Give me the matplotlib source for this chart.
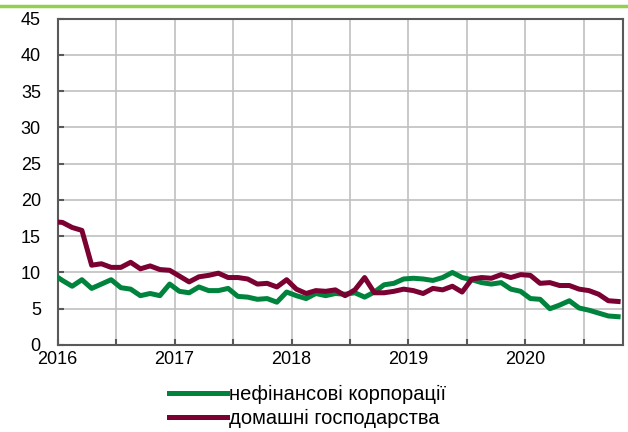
import numpy as np
import matplotlib
matplotlib.use("Agg")
import matplotlib.pyplot as plt
from matplotlib.lines import Line2D

plt.rcParams['font.family'] = ['Liberation Sans', 'DejaVu Sans']

# monthly values, Dec 2015 .. Oct 2020 (first point sits left of the axis and is clipped)
nonfin_corps = [9.8,
                8.9, 8.1, 9.0, 7.8, 8.4, 9.0, 7.9, 7.7, 6.8, 7.1, 6.8, 8.4,
                7.4, 7.2, 8.0, 7.5, 7.5, 7.8, 6.7, 6.6, 6.3, 6.4, 5.9, 7.3,
                6.8, 6.4, 7.1, 6.8, 7.1, 7.0, 7.2, 6.6, 7.3, 8.3, 8.5, 9.1,
                9.2, 9.1, 8.9, 9.3, 10.0, 9.3, 9.0, 8.6, 8.4, 8.6, 7.7, 7.4,
                6.4, 6.3, 5.0, 5.5, 6.1, 5.1, 4.8, 4.4, 4.0, 3.9]
households = [17.0,
              16.9, 16.2, 15.8, 11.0, 11.2, 10.7, 10.7, 11.4, 10.5, 10.9, 10.4, 10.3,
              9.5, 8.7, 9.4, 9.6, 9.9, 9.3, 9.3, 9.1, 8.4, 8.5, 8.0, 9.0,
              7.7, 7.1, 7.5, 7.4, 7.6, 6.8, 7.6, 9.3, 7.2, 7.2, 7.4, 7.7,
              7.5, 7.1, 7.8, 7.6, 8.1, 7.3, 9.1, 9.3, 9.2, 9.7, 9.3, 9.7,
              9.6, 8.5, 8.6, 8.2, 8.2, 7.7, 7.5, 7.0, 6.1, 6.0]
series_names = ['нефінансові корпорації', 'домашні господарства']
years = ['2016', '2017', '2018', '2019', '2020']

green = '#00843D'
maroon = '#7A0131'
grid_col = '#C0C0C0'
spine_col = '#595959'

n_months = len(households) - 1
x = np.arange(-1, n_months) + 0.5

fig = plt.figure(figsize=(6.28, 4.32), dpi=100)
ax = fig.add_axes([0.0916, 0.2014, 0.9004, 0.7556])

ax.plot(x, nonfin_corps, color=green, lw=3.6, solid_joinstyle='round', zorder=3)
ax.plot(x, households, color=maroon, lw=3.6, solid_joinstyle='round', zorder=3)

ax.set_xlim(0, n_months)
ax.set_ylim(0, 45)
ax.set_yticks(np.arange(0, 46, 5))
xt = np.arange(0, n_months, 6)
ax.set_xticks(xt)
ax.set_xticklabels([years[i // 12] if i % 12 == 0 else '' for i in xt])

ax.grid(True, color=grid_col, lw=1.2)
ax.set_axisbelow(True)
for s in ax.spines.values():
    s.set_color(spine_col)
    s.set_linewidth(1.5)

ax.tick_params(axis='y', direction='in', length=4, width=1.5, color=spine_col,
               labelsize=13, pad=12)
ax.tick_params(axis='x', direction='in', length=4, width=1.5, color=spine_col,
               labelsize=13, pad=4)

# thin green rule at the very top
fig.add_artist(Line2D([0, 1], [0.987, 0.987], color='#92D050', lw=2.5,
                      transform=fig.transFigure))

handles = [Line2D([], [], color=green, lw=3.6), Line2D([], [], color=maroon, lw=3.6)]
fig.legend(handles, series_names, loc='upper center', bbox_to_anchor=(0.49, 0.109),
           ncol=1, frameon=False, fontsize=14.5, handlelength=2.9, handletextpad=0.1,
           labelspacing=0.25, borderaxespad=0, borderpad=0)

fig.savefig('out.png', dpi=100)
